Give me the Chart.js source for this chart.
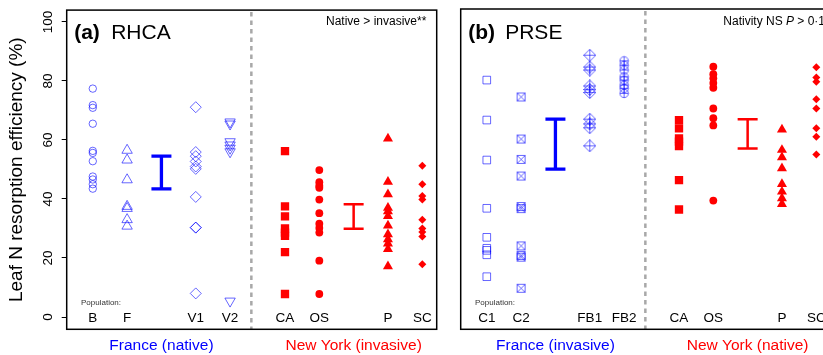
<!DOCTYPE html>
<html><head><meta charset="utf-8">
<script src="https://cdn.jsdelivr.net/npm/chart.js@4"></script>
<style>
html,body{margin:0;padding:0;background:#fff;overflow:hidden;width:823px;height:355px;}
#wrap{position:relative;width:823px;height:355px;overflow:hidden;background:#fff;}
canvas{position:absolute;top:0;}
</style></head><body>
<div id="wrap">
<canvas id="ca" width="445" height="355" style="left:0"></canvas>
<canvas id="cb" width="400" height="355" style="left:445px"></canvas>
</div>
<script>
// ---------- DATA ----------
const yTicks = [0, 20, 40, 60, 80, 100];
const yTitle = 'Leaf N resorption efficiency (%)';

// Panel (a) RHCA
const rhcaPops = ['B', 'F', 'V1', 'V2', 'CA', 'OS', 'P', 'SC'];
const rhca_B  = [77.4, 71.8, 70.9, 65.5, 56.3, 55.6, 52.8, 47.6, 46.6, 45.0, 43.5];
const rhca_F  = [56.5, 53.2, 46.5, 37.5, 36.8, 33.0, 30.8];
const rhca_V1 = [71.1, 55.9, 54.5, 52.7, 51.0, 50.2, 40.7, 30.3, 30.3, 8.0];
const rhca_V2 = [66.1, 65.4, 59.4, 58.3, 57.2, 56.0, 5.4];
const rhca_CA = [56.2, 37.5, 34.1, 30.0, 28.6, 27.5, 22.0, 7.8];
const rhca_OS = [49.8, 45.7, 44.5, 43.8, 39.8, 35.2, 31.6, 30.2, 28.6, 19.1, 7.8];
const rhca_P  = [60.5, 45.8, 41.6, 37.0, 35.8, 34.2, 31.0, 28.0, 26.3, 24.9, 23.0, 17.2];
const rhca_SC = [51.3, 45.0, 41.0, 39.8, 33.0, 30.0, 28.8, 27.3, 17.9];
const rhca_rangeFrance = [43.4, 54.5];
const rhca_rangeNY = [29.9, 38.2];

// Panel (b) PRSE
const prsePops = ['C1', 'C2', 'FB1', 'FB2', 'CA', 'OS', 'P', 'SC'];
const prse_C1  = [80.0, 66.5, 53.0, 36.7, 26.9, 23.2, 22.5, 21.0, 13.6];
const prse_C2  = [74.3, 60.1, 53.2, 47.6, 37.3, 36.6, 24.0, 20.8, 20.2, 9.7];
const prse_FB1 = [88.4, 84.4, 83.4, 78.0, 76.8, 75.8, 66.8, 65.2, 63.9, 57.8];
const prse_FB2 = [86.5, 85.0, 83.4, 81.1, 80.0, 78.3, 77.2, 75.5];
const prse_CA  = [66.5, 63.7, 60.3, 59.2, 57.7, 46.2, 36.3];
const prse_OS  = [84.5, 82.0, 80.6, 79.0, 77.4, 70.4, 67.1, 64.7, 39.3];
const prse_P   = [63.3, 56.4, 53.9, 50.2, 44.9, 42.3, 40.1, 38.1];
const prse_SC  = [84.3, 80.9, 79.4, 73.5, 70.4, 63.7, 60.9, 54.9];
const prse_rangeFrance = [49.9, 66.8];
const prse_rangeNY = [56.9, 66.8];

// ---------- STYLE / LAYOUT ----------
const FONT = "'Liberation Sans', Arial, Helvetica, sans-serif";
const BLUE = '#0000ff', BLUE_A = 'rgba(0,0,255,0.6)', RED = '#ff0000';
// slot layout: group 1 slots 1..5 (mean at 3), group 2 slots 6.6..10.6 (mean at 8.6)
const popSlots = [1, 2, 4, 5, 6.6, 7.6, 9.6, 10.6];
const meanSlots = [3, 8.6];
const dividerSlot = 5.62;
const X_MIN = 0.24, X_MAX = 11.02, Y_MIN = -4.16, Y_MAX = 104;

function mk(size, draw) {
  const c = document.createElement('canvas');
  c.width = size; c.height = size;
  const g = c.getContext('2d');
  g.strokeStyle = BLUE_A; g.lineWidth = 1;
  draw(g, size / 2);
  return c;
}
const boxX = mk(11, (g, m) => {
  g.beginPath(); g.rect(1.5, 1.5, 8, 8);
  g.moveTo(1.5, 1.5); g.lineTo(9.5, 9.5); g.moveTo(9.5, 1.5); g.lineTo(1.5, 9.5); g.stroke();
});
const diamondPlus = mk(13, (g, m) => {
  g.beginPath(); g.moveTo(m, 0.5); g.lineTo(12.5, m); g.lineTo(m, 12.5); g.lineTo(0.5, m); g.closePath();
  g.moveTo(m, 0.5); g.lineTo(m, 12.5); g.moveTo(0.5, m); g.lineTo(12.5, m); g.stroke();
});
const circlePlus = mk(11, (g, m) => {
  g.beginPath(); g.arc(m, m, 4.2, 0, Math.PI * 2);
  g.moveTo(m, m - 4.2); g.lineTo(m, m + 4.2); g.moveTo(m - 4.2, m); g.lineTo(m + 4.2, m); g.stroke();
});

const openStyle = (ps, r, rot) => ({pointStyle: ps, pointRadius: r, pointRotation: rot || 0,
  pointBorderColor: BLUE_A, pointBackgroundColor: 'rgba(0,0,0,0)', pointBorderWidth: 1});
const solidStyle = (ps, r) => ({pointStyle: ps, pointRadius: r, pointRotation: 0,
  pointBorderColor: RED, pointBackgroundColor: RED, pointBorderWidth: 0});

const redStyles = [solidStyle('rect', 5.9), solidStyle('circle', 3.9), solidStyle('triangle', 5.8), solidStyle('rectRot', 4)];

function buildDatasets(series, styles) {
  return series.map((vals, i) => Object.assign({
    data: vals.map(v => ({x: popSlots[i], y: v})),
    showLine: false
  }, styles[i]));
}

function panelPlugin(p) {
  return {
    id: 'panel_' + p.tag,
    beforeDatasetsDraw(chart) {
      const {ctx, chartArea: ca, scales: {x, y}} = chart;
      ctx.save();
      const dx = x.getPixelForValue(dividerSlot);
      ctx.strokeStyle = '#a8a8a8'; ctx.lineWidth = 2.5; ctx.setLineDash([4.5, 4]);
      ctx.beginPath(); ctx.moveTo(dx, ca.top + 2); ctx.lineTo(dx, ca.bottom); ctx.stroke();
      ctx.setLineDash([]);
      p.ranges.forEach((rg, i) => {
        const cx = x.getPixelForValue(meanSlots[i]);
        const y0 = y.getPixelForValue(rg[0]), y1 = y.getPixelForValue(rg[1]);
        ctx.strokeStyle = i === 0 ? BLUE : RED;
        ctx.lineWidth = i === 0 ? 3.3 : 2.5;
        ctx.beginPath();
        ctx.moveTo(cx, y0); ctx.lineTo(cx, y1);
        ctx.moveTo(cx - 10, y0); ctx.lineTo(cx + 10, y0);
        ctx.moveTo(cx - 10, y1); ctx.lineTo(cx + 10, y1);
        ctx.stroke();
      });
      ctx.restore();
    },
    afterDraw(chart) {
      const {ctx, chartArea: ca, scales: {x}} = chart;
      ctx.save();
      ctx.strokeStyle = '#000'; ctx.lineWidth = 1.5;
      ctx.strokeRect(ca.left, ca.top, ca.right - ca.left, ca.bottom - ca.top);
      ctx.fillStyle = '#000'; ctx.textBaseline = 'alphabetic'; ctx.textAlign = 'left';
      ctx.font = 'bold 21px ' + FONT;
      ctx.fillText(p.letter, ca.left + 7.5, 39);
      ctx.font = '21px ' + FONT;
      ctx.fillText(p.species, ca.left + 44.5, 39);
      ctx.font = '12px ' + FONT;
      let tx = ca.left + p.noteOffset;
      p.note.forEach(seg => {
        ctx.font = (seg.italic ? 'italic ' : '') + '12px ' + FONT;
        ctx.fillText(seg.t, tx, 25);
        tx += ctx.measureText(seg.t).width;
      });
      ctx.fillStyle = '#333'; ctx.font = '8px ' + FONT;
      ctx.fillText('Population:', ca.left + 14.3, 305);
      ctx.textAlign = 'center'; ctx.font = '15.5px ' + FONT;
      p.groups.forEach((g, i) => {
        ctx.fillStyle = i === 0 ? BLUE : RED;
        ctx.fillText(g, x.getPixelForValue(meanSlots[i]), 350);
      });
      ctx.restore();
    }
  };
}

function makeChart(id, pops, series, styles, p, withY, pad) {
  return new Chart(document.getElementById(id), {
    type: 'scatter',
    data: {datasets: buildDatasets(series, styles)},
    options: {
      responsive: false, animation: false, events: [],
      layout: {padding: pad},
      plugins: {legend: {display: false}, tooltip: {enabled: false}},
      scales: {
        x: {
          type: 'linear', min: X_MIN, max: X_MAX,
          grid: {display: false}, border: {display: false},
          afterBuildTicks: s => { s.ticks = popSlots.map(v => ({value: v})); },
          afterFit: s => { s.height = 25.7; },
          ticks: {
            autoSkip: false, maxRotation: 0, minRotation: 0, mirror: true, padding: 3,
            color: '#000', font: {family: FONT, size: 13.5},
            callback: (v, i) => pops[i]
          }
        },
        y: {
          display: withY, min: Y_MIN, max: Y_MAX,
          afterBuildTicks: s => { s.ticks = yTicks.map(v => ({value: v})); },
          afterFit: s => { s.width = withY ? 66.7 : 0; },
          grid: {drawOnChartArea: false, drawTicks: true, tickLength: 5, color: '#000', lineWidth: 1},
          border: {display: false},
          ticks: {minRotation: 90, maxRotation: 90, crossAlign: 'center', padding: 2,
            color: '#000', font: {family: FONT, size: 13.5}},
          title: {display: withY, text: yTitle, color: '#000', font: {family: FONT, size: 19},
            padding: {top: 5, bottom: 0}}
        }
      }
    },
    plugins: [panelPlugin(p)]
  });
}

makeChart('ca', rhcaPops,
  [rhca_B, rhca_F, rhca_V1, rhca_V2, rhca_CA, rhca_OS, rhca_P, rhca_SC],
  [openStyle('circle', 3.7), openStyle('triangle', 6), openStyle('rectRot', 5.5), openStyle('triangle', 6, 180)].concat(redStyles),
  {tag: 'a', letter: '(a)', species: 'RHCA', ranges: [rhca_rangeFrance, rhca_rangeNY],
   note: [{t: 'Native > invasive**'}], noteOffset: 259.3,
   groups: ['France (native)', 'New York (invasive)']},
  true, {top: 9, right: 8.3, left: 0, bottom: 0});

makeChart('cb', prsePops,
  [prse_C1, prse_C2, prse_FB1, prse_FB2, prse_CA, prse_OS, prse_P, prse_SC],
  [openStyle('rect', 5.4), openStyle(boxX, 5), openStyle(diamondPlus, 6), openStyle(circlePlus, 5)].concat(redStyles),
  {tag: 'b', letter: '(b)', species: 'PRSE', ranges: [prse_rangeFrance, prse_rangeNY],
   note: [{t: 'Nativity NS '}, {t: 'P', italic: true}, {t: ' > 0·1'}], noteOffset: 262.6,
   groups: ['France (invasive)', 'New York (native)']},
  false, {top: 9, right: 14.3, left: 15.7, bottom: 0});
</script>
</body></html>
